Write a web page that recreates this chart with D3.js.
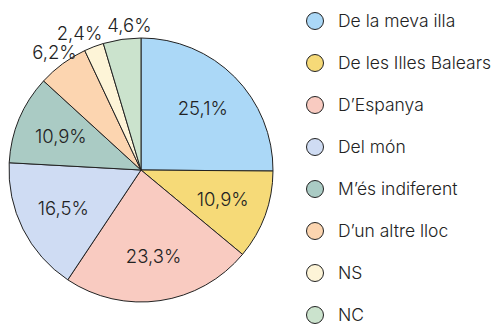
<!DOCTYPE html>
<html>
<head>
<meta charset="utf-8">
<script src="https://cdn.jsdelivr.net/npm/d3@7"></script>
<style>
  html, body { margin: 0; padding: 0; background: #fff; }
  svg { display: block; font-family: Inter, "Liberation Sans", sans-serif; }
</style>
</head>
<body>
<svg id="chart" width="497" height="326"></svg>
<script>
// Origin of identity responses, percentages
const categories = ["De la meva illa", "De les Illes Balears", "D\u2019Espanya", "Del m\u00f3n",
                    "M\u2019\u00e9s indiferent", "D\u2019un altre lloc", "NS", "NC"];
const values = [25.1, 10.9, 23.3, 16.5, 10.9, 6.2, 2.4, 4.6];
const colors = ["#abd8f7", "#f6da78", "#f9cbc1", "#cfdcf3", "#aacbc4", "#fcd5b0", "#fdf4d7", "#cbe3cd"];
const outsideLabels = [false, false, false, false, false, true, true, true];

const svg = d3.select("#chart");
const cx = 141, cy = 170, r = 132;

const pie = d3.pie().sort(null).value(d => d);
const arcs = pie(values);
const arc = d3.arc().innerRadius(0).outerRadius(r);
const inLabel = d3.arc().innerRadius(87).outerRadius(87);
const outLabel = d3.arc().innerRadius(146).outerRadius(146);

const g = svg.append("g").attr("transform", `translate(${cx},${cy})`);

g.selectAll("path.slice")
  .data(arcs)
  .join("path")
  .attr("class", "slice")
  .attr("d", arc)
  .attr("fill", (d, i) => colors[i])
  .attr("stroke", "#222")
  .attr("stroke-width", 1)
  .attr("stroke-linejoin", "round");

const fmt = v => v.toFixed(1).replace(".", ",") + "%";

// Label positions: inside slices for large shares, outside for small ones
const labels = arcs.map((d, i) => {
  const [x, y] = (outsideLabels[i] ? outLabel : inLabel).centroid(d);
  return { text: fmt(d.data), x, y, outside: outsideLabels[i] };
});

// Spread neighbouring outside labels horizontally so they do not collide
const labelW = 50, labelH = 18;
const outs = labels.filter(l => l.outside);
for (let iter = 0; iter < 20; iter++) {
  for (let a = 0; a < outs.length; a++) {
    for (let b = a + 1; b < outs.length; b++) {
      const A = outs[a], B = outs[b];
      const dx = B.x - A.x, dy = Math.abs(B.y - A.y);
      if (dy < labelH && Math.abs(dx) < labelW) {
        const push = (labelW - Math.abs(dx)) / 2 * Math.sign(dx || 1);
        A.x -= push; B.x += push;
      }
    }
  }
}

g.selectAll("text.val")
  .data(labels)
  .join("text")
  .attr("class", "val")
  .attr("x", d => d.x)
  .attr("y", d => d.y)
  .attr("text-anchor", "middle")
  .attr("dy", "0.35em")
  .attr("font-size", 18.5)
  .attr("font-weight", 300)
  .attr("fill", "#222")
  .text(d => d.text);

// Legend
const legend = svg.append("g");
const rows = legend.selectAll("g")
  .data(categories)
  .join("g")
  .attr("transform", (d, i) => `translate(315,${21 + i * 42})`);

rows.append("circle")
  .attr("r", 8.5)
  .attr("fill", (d, i) => colors[i])
  .attr("stroke", "#222")
  .attr("stroke-width", 1);

rows.append("text")
  .attr("x", 23)
  .attr("dy", "0.35em")
  .attr("font-size", 17.5)
  .attr("font-weight", 300)
  .attr("fill", "#222")
  .text(d => d);
</script>
</body>
</html>
